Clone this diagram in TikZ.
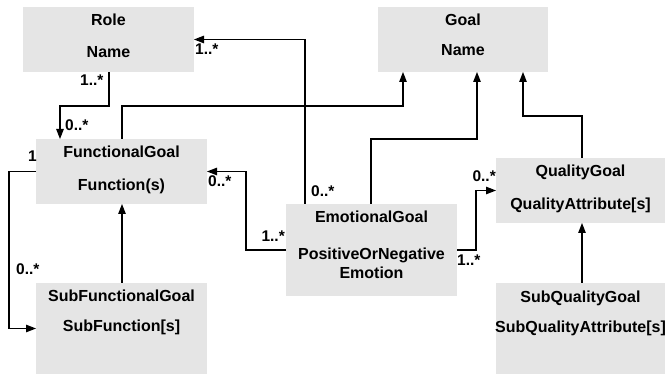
\documentclass[tikz,border=0pt]{standalone}
\usepackage{fontspec}
\setmainfont{Liberation Sans}
\usetikzlibrary{arrows.meta,calc}
\definecolor{boxgray}{HTML}{E5E5E5}
\begin{document}
\begin{tikzpicture}[x=1pt,y=-1pt,
  box/.style={fill=boxgray, draw=none, inner sep=0pt, outer sep=0pt, anchor=north west},
  txt/.style={font=\fontsize{16}{19}\selectfont\bfseries, inner sep=0pt, anchor=base},
  mult/.style={font=\fontsize{15.5}{18}\selectfont\bfseries, inner sep=0pt},
  conn/.style={line width=1.3pt, -{Triangle[length=10pt,width=7.5pt]}}]
\useasboundingbox (0,0) rectangle (665,374);
% boxes
\node[box, minimum width=171pt, minimum height=65pt] (role) at (23,7) {};
\node[box, minimum width=170pt, minimum height=65pt] (goal) at (378,7) {};
\node[box, minimum width=171pt, minimum height=65pt] (fg) at (36,139) {};
\node[box, minimum width=171pt, minimum height=91pt] (sfg) at (36,283) {};
\node[box, minimum width=171pt, minimum height=92pt] (eg) at (286,204) {};
\node[box, minimum width=169pt, minimum height=65pt] (qg) at (496,158) {};
\node[box, minimum width=169pt, minimum height=91pt] (sqg) at (496,283) {};
% texts
\node[txt] (roleT) at (108.5,26) {Role};
\node[txt] (roleA) at (108.5,58) {Name};
\node[txt] (goalT) at (463,26) {Goal};
\node[txt] (goalA) at (463,56) {Name};
\node[txt] (fgT) at (121.5,158) {FunctionalGoal};
\node[txt] (fgA) at (121.5,191) {Function(s)};
\node[txt] (sfgT) at (121.5,302) {SubFunctionalGoal};
\node[txt] (sfgA) at (121.5,332) {SubFunction[s]};
\node[txt] (egT) at (371.5,223) {EmotionalGoal};
\node[txt] (egA) at (371.5,260) {PositiveOrNegative};
\node[txt] (egB) at (371.5,279) {Emotion};
\node[txt] (qgT) at (580.5,177) {QualityGoal};
\node[txt] (qgA) at (580.5,210) {QualityAttribute[s]};
\node[txt] (sqgT) at (580.5,303) {SubQualityGoal};
\node[txt] (sqgA) at (580.5,333) {SubQualityAttribute[s]};
% connectors
\draw[conn] ($(role.south west)+(86,0)$) |- (60,106) -- ($(fg.north west)+(24,0)$);
\draw[conn] ($(fg.north west)+(86,0)$) -- (122,106) -| ($(goal.south west)+(25,0)$);
\draw[conn] ($(eg.north west)+(19,0)$) |- (role.east);
\draw[conn] ($(eg.north west)+(85,0)$) -- (371,139) -| ($(goal.south west)+(99,0)$);
\draw[conn] ($(qg.north west)+(86,0)$) -- (582,116) -| ($(goal.south west)+(145,0)$);
\draw[conn] (eg.west) -- ++(-40,0) |- (fg.east);
\draw[conn] (fg.west) -- ++(-27,0) |- (sfg.west);
\draw[conn] ($(sfg.north west)+(86,0)$) -- ($(fg.south west)+(86,0)$);
\draw[conn] (eg.east) -- ++(19,0) |- (qg.west);
\draw[conn] ($(sqg.north west)+(86,0)$) -- ($(qg.south west)+(86,0)$);
% multiplicities
\node[mult, anchor=base west] (m1) at (80,86) {1..*};
\node[mult, anchor=base west] (m2) at (65,131) {0..*};
\node[mult, anchor=base west] (m3) at (195,55) {1..*};
\node[mult, anchor=base west] (m4) at (28,162) {1};
\node[mult, anchor=base west] (m5) at (208,187) {0..*};
\node[mult, anchor=base west] (m6) at (311,197) {0..*};
\node[mult, anchor=base east] (m7) at (285,242) {1..*};
\node[mult, anchor=base west] (m8) at (16,275) {0..*};
\node[mult, anchor=base east] (m9) at (496,182) {0..*};
\node[mult, anchor=base west] (m10) at (457,266) {1..*};
\end{tikzpicture}
\end{document}
